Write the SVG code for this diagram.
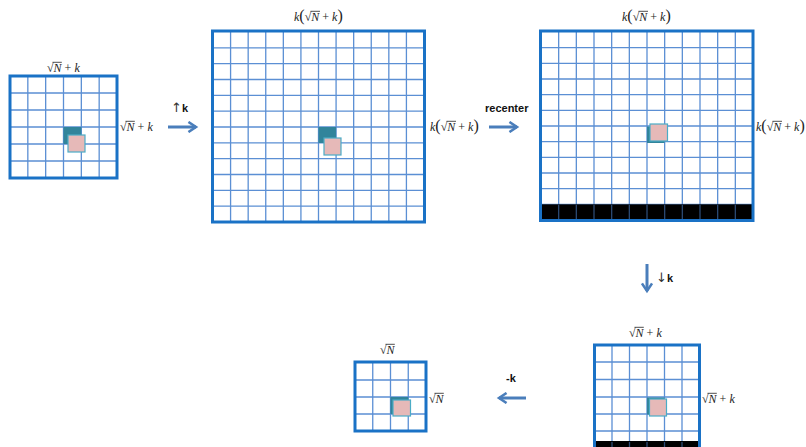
<svg xmlns="http://www.w3.org/2000/svg" width="806" height="447" viewBox="0 0 806 447">
<defs>
<style>
.bg{fill:#ffffff}
.cells{fill:#ffffff}
.gl{stroke:#5b8fd4;stroke-width:1.3;fill:none}
.gd{stroke:#2b4a73;stroke-width:1.3;fill:none}
.border{fill:none;stroke:#1a72c6;stroke-width:3}
.blk{fill:#000000}
.teal{fill:#31849b}
.pink{fill:#e6b9b8;stroke:#4bacc6;stroke-width:1.2}
.m{font-family:"Liberation Serif","Times New Roman",serif;font-size:12px;fill:#222}
.i{font-style:italic}
.p{font-size:16px}
.ov{stroke:#222;stroke-width:0.8}
.arr{stroke:#4a7ebb;stroke-width:3;fill:none}
.lbl{font-family:"Liberation Sans",Arial,sans-serif;font-size:11px;font-weight:bold;fill:#111}
.thin{font-family:"DejaVu Sans",sans-serif;font-size:13px;font-weight:normal;fill:#333}
</style>
<marker id="ah" viewBox="0 0 10 10" refX="8" refY="5" markerWidth="4.2" markerHeight="4.2" markerUnits="strokeWidth" orient="auto">
<polyline points="2,1 8,5 2,9" fill="none" stroke="#4a7ebb" stroke-width="2"/>
</marker>
</defs>
<rect class="bg" x="0" y="0" width="806" height="447"/>

<g id="grid1">
<rect class="cells" x="10" y="76" width="107" height="102"/>
<path class="gl" d="M27.83 76V178M45.67 76V178M63.5 76V178M81.33 76V178M99.17 76V178M10 93H117M10 110H117M10 127H117M10 144H117M10 161H117"/>
<rect class="teal" x="63.5" y="127" width="17.8" height="17"/>
<rect class="pink" x="68" y="135" width="17" height="17"/>
<rect class="border" x="10" y="76" width="107" height="102"/>
<text class="m" x="47" y="72">√<tspan class="i">N</tspan> + <tspan class="i">k</tspan></text>
<line class="ov" x1="52.5" y1="62.3" x2="61.8" y2="62.3"/>
<text class="m" x="120" y="131">√<tspan class="i">N</tspan> + <tspan class="i">k</tspan></text>
<line class="ov" x1="125.5" y1="121.3" x2="134.8" y2="121.3"/>
</g>

<g id="grid2">
<rect class="cells" x="213" y="32" width="211" height="190"/>
<path class="gl" d="M230.58 32V222M248.17 32V222M265.75 32V222M283.33 32V222M300.92 32V222M318.5 32V222M336.08 32V222M353.67 32V222M371.25 32V222M388.83 32V222M406.42 32V222M213 47.83H424M213 63.67H424M213 79.5H424M213 95.33H424M213 111.17H424M213 127H424M213 142.83H424M213 158.67H424M213 174.5H424M213 190.33H424M213 206.17H424"/>
<rect class="teal" x="318.5" y="127" width="17.6" height="16"/>
<rect class="pink" x="324" y="138" width="17" height="17"/>
<rect class="border" x="212.5" y="31" width="212" height="191"/>
<text class="m" x="294" y="21"><tspan class="i">k</tspan><tspan class="p">(</tspan>√<tspan class="i">N</tspan> + <tspan class="i">k</tspan><tspan class="p">)</tspan></text>
<line class="ov" x1="310.5" y1="11.3" x2="320" y2="11.3"/>
<text class="m" x="430" y="131"><tspan class="i">k</tspan><tspan class="p">(</tspan>√<tspan class="i">N</tspan> + <tspan class="i">k</tspan><tspan class="p">)</tspan></text>
<line class="ov" x1="446.5" y1="121.3" x2="456" y2="121.3"/>
</g>

<g id="grid3">
<rect class="cells" x="541" y="32" width="212" height="188"/>
<path class="gl" d="M558.67 32V204.3M576.33 32V204.3M594 32V204.3M611.67 32V204.3M629.33 32V204.3M647 32V204.3M664.67 32V204.3M682.33 32V204.3M700 32V204.3M717.67 32V204.3M735.33 32V204.3M541 47.67H753M541 63.33H753M541 79H753M541 94.67H753M541 110.33H753M541 126H753M541 141.67H753M541 157.33H753M541 173H753M541 188.67H753M541 204.33H753"/>
<rect class="blk" x="541" y="204.33" width="212" height="15.67"/>
<path class="gd" d="M558.67 205V220M576.33 205V220M594 205V220M611.67 205V220M629.33 205V220M647 205V220M664.67 205V220M682.33 205V220M700 205V220M717.67 205V220M735.33 205V220"/>
<rect class="teal" x="647" y="126.5" width="17.5" height="16.5"/>
<rect class="pink" x="650" y="124" width="17.5" height="17"/>
<rect class="border" x="540.5" y="31" width="212.5" height="189.5"/>
<text class="m" x="622" y="21"><tspan class="i">k</tspan><tspan class="p">(</tspan>√<tspan class="i">N</tspan> + <tspan class="i">k</tspan><tspan class="p">)</tspan></text>
<line class="ov" x1="638.5" y1="11.3" x2="648" y2="11.3"/>
<text class="m" x="756" y="131"><tspan class="i">k</tspan><tspan class="p">(</tspan>√<tspan class="i">N</tspan> + <tspan class="i">k</tspan><tspan class="p">)</tspan></text>
<line class="ov" x1="772.5" y1="121.3" x2="782" y2="121.3"/>
</g>

<g id="grid5">
<rect class="cells" x="594.5" y="345" width="105" height="120"/>
<path class="gl" d="M612 345V441M629.5 345V441M647 345V441M664.5 345V441M682 345V441M594.5 362H699.5M594.5 379.5H699.5M594.5 397H699.5M594.5 414H699.5M594.5 431H699.5"/>
<rect class="blk" x="594.5" y="441" width="105" height="20"/>
<path class="gd" d="M612 442V461M629.5 442V461M647 442V461M664.5 442V461M682 442V461"/>
<rect class="teal" x="647" y="397.5" width="17.5" height="17"/>
<rect class="pink" x="649.5" y="399" width="17" height="17"/>
<rect class="border" x="594.5" y="345" width="105" height="120"/>
<text class="m" x="629" y="337">√<tspan class="i">N</tspan> + <tspan class="i">k</tspan></text>
<line class="ov" x1="634.5" y1="327.3" x2="643.8" y2="327.3"/>
<text class="m" x="702" y="403">√<tspan class="i">N</tspan> + <tspan class="i">k</tspan></text>
<line class="ov" x1="707.5" y1="393.3" x2="716.8" y2="393.3"/>
</g>

<g id="grid6">
<rect class="cells" x="355" y="363" width="71" height="68"/>
<path class="gl" d="M372.75 363V431M390.5 363V431M408.25 363V431M355 380H426M355 397H426M355 414H426"/>
<rect class="teal" x="390.5" y="397" width="17.75" height="17"/>
<rect class="pink" x="393" y="400" width="17.5" height="16"/>
<rect class="border" x="355" y="362" width="71" height="69"/>
<text class="m" x="380" y="354">√<tspan class="i">N</tspan></text>
<line class="ov" x1="385.5" y1="344.3" x2="394.8" y2="344.3"/>
<text class="m" x="429" y="403">√<tspan class="i">N</tspan></text>
<line class="ov" x1="434.5" y1="393.3" x2="443.8" y2="393.3"/>
</g>

<g id="connectors">
<line class="arr" x1="168" y1="127" x2="196" y2="127" marker-end="url(#ah)"/>
<line class="arr" x1="489" y1="127" x2="517" y2="127" marker-end="url(#ah)"/>
<line class="arr" x1="647" y1="264" x2="647" y2="291" marker-end="url(#ah)"/>
<line class="arr" x1="526" y1="398" x2="499" y2="398" marker-end="url(#ah)"/>
<text class="lbl" x="171" y="112"><tspan class="thin">↑</tspan>k</text>
<text class="lbl" x="485" y="112">recenter</text>
<text class="lbl" x="656" y="282"><tspan class="thin">↓</tspan>k</text>
<text class="lbl" x="506" y="382">-k</text>
</g>
</svg>
